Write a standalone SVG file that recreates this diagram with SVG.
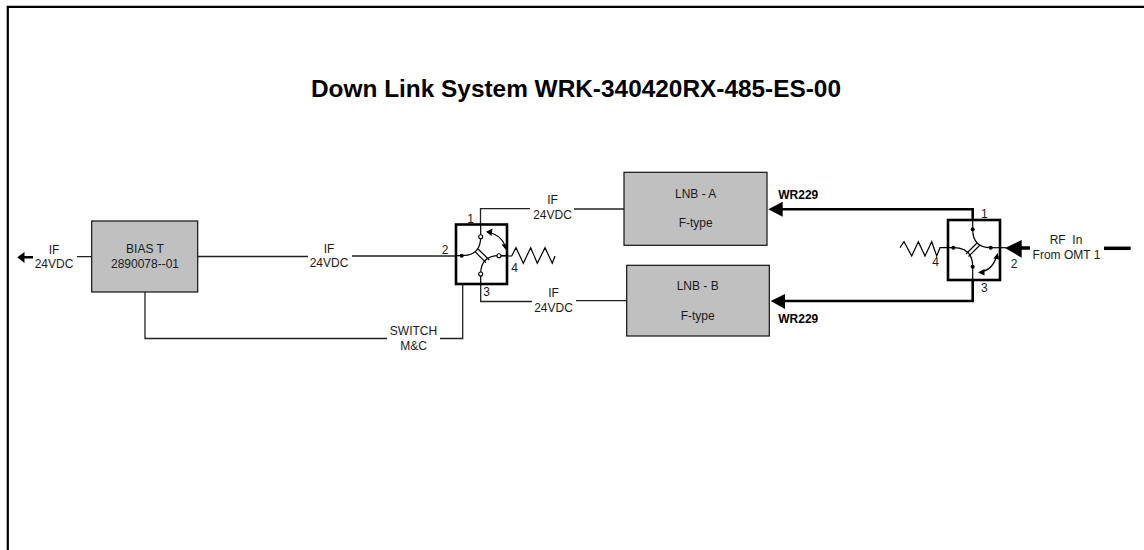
<svg xmlns="http://www.w3.org/2000/svg" width="1144" height="550" viewBox="0 0 1144 550">
<defs>
<style>
text{font-family:"Liberation Sans",Arial,sans-serif;font-size:12px;fill:#1a1a1a;text-anchor:middle}
.b{font-weight:bold;fill:#000}
.box{fill:#c0c0c0;stroke:#111;stroke-width:1.2}
.w{fill:none;stroke:#222;stroke-width:1.3}
.t{fill:none;stroke:#000;stroke-width:2.6}
.sw{fill:none;stroke:#000;stroke-width:2.6}
.in{fill:none;stroke:#000;stroke-width:1.2}
.o{fill:#fff;stroke:#000;stroke-width:1.1}
.k{fill:#000}
</style>
</defs>
<rect width="1144" height="550" fill="#fff"/>
<path d="M7.800 550V6.800H1144" fill="none" stroke="#000" stroke-width="2.200"/>
<text class="b" x="576" y="96.500" style="font-size:24.400px">Down Link System WRK-340420RX-485-ES-00</text>
<g id="connectors">
<path class="w" d="M77 256.700H92M198 256.500H308M352 256H456"/>
<path class="k" d="M17.300 257.300L24.500 252V256H33V258.500H24.500V263Z"/>
<path class="w" d="M145 292V338.500H387M440 338.500H462.700V284"/>
<path class="w" d="M480.500 224V208.700H530M574 209H624"/>
<path class="w" d="M480.700 284V301.500H532M576 300.700H627"/>
<path class="t" d="M972.700 220V209.300H775"/>
<path class="t" d="M972.700 280V301H780"/>
<path class="k" d="M768.300 209.300L782.700 201.700V216.700Z"/>
<path class="k" d="M770.700 301L785 294V309Z"/>
<path class="k" d="M1005 248L1021.700 240V257.700Z"/>
<path d="M1015 248H1030" fill="none" stroke="#000" stroke-width="3.500"/>
<path d="M1104 248.300H1130.700" fill="none" stroke="#000" stroke-width="3.500"/>
<path class="in" d="M499 256H511.700L516 247.700L523.300 263.300L530.700 247.700L537.300 263.300L545 247.700L552.300 263.300L555 256"/>
<path class="in" d="M900 247.700L904 241.700L911.700 256L918.300 241.700L925 256L931.700 241.700L936.700 256L940 247.700H953"/>
<path class="in" d="M990.700 247.700H1006"/>
</g>
<g id="switch-left">
<rect class="sw" x="456" y="224.500" width="51" height="59.500"/>
<path class="in" d="M480.700 224V236.700Q480.700 255.700 461.700 255.700H456M480.700 284V274Q480.700 255.700 499 255.700H507"/>
<path class="in" d="M475 251.700L486 262.700M478.300 249.300L489.300 260"/>
<path class="in" d="M488 232Q503 236 505.500 248"/>
<path class="k" d="M486 231.700L492.500 228.500L491.500 236ZM506 250L501.500 244.500L508 244Z"/>
<circle class="k" cx="461.700" cy="255.700" r="2"/>
<circle class="o" cx="480.700" cy="236.700" r="2"/>
<circle class="o" cx="499" cy="255.700" r="2"/>
<circle class="o" cx="480.700" cy="274" r="2"/>
<text x="470.700" y="222.700">1</text><text x="445" y="254.300">2</text><text x="486.700" y="295.700">3</text><text x="514.700" y="272">4</text>
</g>
<g id="switch-right">
<rect class="sw" x="948" y="220" width="52" height="60"/>
<path class="in" d="M972.700 220V229.300Q972.700 247.700 990.700 247.700M972.700 280V266.700Q972.700 247.700 953.300 247.700"/>
<path class="in" d="M966 254L977 243M968.500 256.500L979.500 245.500"/>
<path class="in" d="M996.500 256Q993 270 980 272"/>
<path class="k" d="M997.500 253L993.500 258.500L999.500 259.500ZM978 272.500L984.500 269L984.500 275.500Z"/>
<circle class="k" cx="953.300" cy="247.700" r="2"/>
<circle class="k" cx="972.700" cy="229.300" r="2"/>
<circle class="k" cx="990.700" cy="247.700" r="2"/>
<circle class="k" cx="972.700" cy="266.700" r="2"/>
<text x="984.300" y="217.700">1</text><text x="1014" y="268.300">2</text><text x="984.300" y="291.700">3</text><text x="935.700" y="266">4</text>
</g>
<g id="bias-t">
<rect class="box" x="91.700" y="221" width="106" height="71"/>
<text x="145" y="253">BIAS T</text><text x="145" y="268">2890078--01</text>
</g>
<g id="lnb-a">
<rect class="box" x="624" y="172.300" width="143" height="73"/>
<text x="695.700" y="197.700">LNB - A</text><text x="695.700" y="227.300">F-type</text>
</g>
<g id="lnb-b">
<rect class="box" x="626.700" y="265.300" width="142.600" height="70.700"/>
<text x="697.700" y="290">LNB - B</text><text x="697.700" y="320">F-type</text>
</g>
<g id="labels">
<text x="54" y="254">IF</text><text x="54" y="268">24VDC</text>
<text x="329" y="253">IF</text><text x="329" y="267">24VDC</text>
<text x="552.500" y="204.300">IF</text><text x="552.500" y="219.300">24VDC</text>
<text x="553.500" y="296.700">IF</text><text x="553.500" y="311.700">24VDC</text>
<text x="413.500" y="335">SWITCH</text><text x="413.500" y="350">M&amp;C</text>
<text class="b" x="798.300" y="199">WR229</text>
<text class="b" x="798.300" y="323.300">WR229</text>
<text x="1066" y="244.300">RF&#160; In</text><text x="1066.500" y="259.300">From OMT 1</text>
</g>
</svg>
